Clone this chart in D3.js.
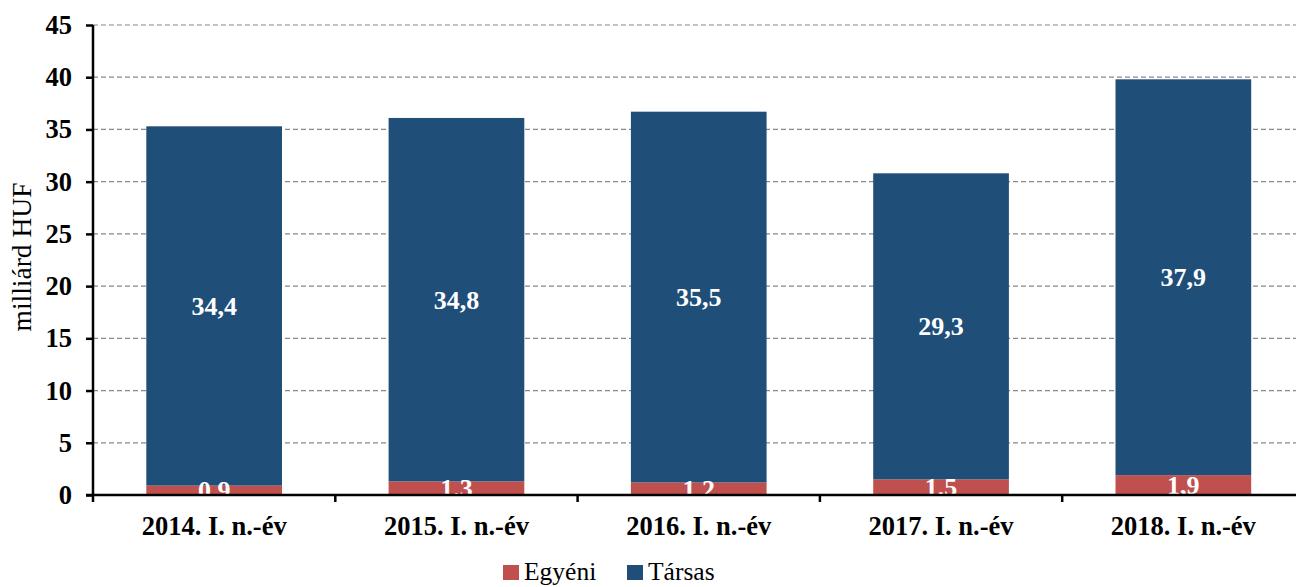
<!DOCTYPE html>
<html>
<head>
<meta charset="utf-8">
<script src="https://cdn.jsdelivr.net/npm/d3@7"></script>
<style>
body { margin: 0; background: #fff; }
svg { display: block; font-family: "Liberation Serif", "Times New Roman", serif; }
</style>
</head>
<body>
<svg id="chart" width="1296" height="587"></svg>
<script>
const categories = ["2014. I. n.-év", "2015. I. n.-év", "2016. I. n.-év", "2017. I. n.-év", "2018. I. n.-év"];
const egyeni = [0.9, 1.3, 1.2, 1.5, 1.9];
const tarsas = [34.4, 34.8, 35.5, 29.3, 37.9];
const yTicks = [0, 5, 10, 15, 20, 25, 30, 35, 40, 45];
const seriesNames = ["Egyéni", "Társas"];
const colors = ["#C0504D", "#1F4E79"];

const svg = d3.select("#chart");
const x0 = 93, x1 = 1304.5, yTop = 25, yBot = 495;
const x = d3.scaleBand().domain(categories).range([x0, x1]).paddingInner(0.44).paddingOuter(0.22);
const y = d3.scaleLinear().domain([0, 45]).range([yBot, yTop]);

// gridlines
svg.append("g").selectAll("line").data(yTicks.filter(d => d > 0)).join("line")
  .attr("x1", x0).attr("x2", 1296).attr("y1", d => y(d)).attr("y2", d => y(d))
  .attr("stroke", "#888").attr("stroke-width", 1.2).attr("stroke-dasharray", "5,3");

const rows = categories.map((c, i) => ({cat: c, Egyéni: egyeni[i], Társas: tarsas[i]}));
const stack = d3.stack().keys(seriesNames)(rows);

svg.append("defs").append("clipPath").attr("id", "plotclip")
  .append("rect").attr("x", x0).attr("y", yTop).attr("width", 1296 - x0).attr("height", yBot - yTop);

const gBars = svg.append("g");
stack.forEach((s, si) => {
  gBars.selectAll(null).data(s).join("rect")
    .attr("x", d => x(d.data.cat)).attr("width", x.bandwidth())
    .attr("y", d => y(d[1])).attr("height", d => y(d[0]) - y(d[1]))
    .attr("fill", colors[si]);
});

const gLab = svg.append("g").attr("clip-path", "url(#plotclip)");
stack.forEach((s, si) => {
  gLab.selectAll(null).data(s).join("text")
    .attr("x", d => x(d.data.cat) + x.bandwidth() / 2)
    .attr("y", d => y((d[0] + d[1]) / 2))
    .attr("dy", "0.35em")
    .attr("text-anchor", "middle")
    .attr("fill", "#fff").attr("font-weight", "bold").attr("font-size", 26)
    .text(d => d3.format(".1f")(d[1] - d[0]).replace(".", ","));
});

// y axis
const yAxis = d3.axisLeft(y).tickValues(yTicks).tickSize(7).tickPadding(14).tickFormat(d3.format("d"));
const gy = svg.append("g").attr("transform", `translate(${x0},0)`).call(yAxis);
gy.select(".domain").attr("d", `M0,${yTop}V${yBot + 7}`).attr("stroke", "#000").attr("stroke-width", 2.5);
gy.selectAll(".tick line").attr("stroke", "#000").attr("stroke-width", 2.5);
gy.selectAll(".tick text").attr("font-family", "Liberation Serif, serif").attr("font-size", 26.5).attr("font-weight", "bold").attr("fill", "#000");

// x axis
const gx = svg.append("g").attr("transform", `translate(0,${yBot})`);
gx.append("line").attr("x1", x0 - 7).attr("x2", 1296).attr("y1", 0).attr("y2", 0).attr("stroke", "#000").attr("stroke-width", 2.5);
const step = x.step();
const boundaries = categories.slice(1).map(c => x(c) - x.paddingInner() * step / 2);
gx.selectAll("line.b").data(boundaries).join("line").attr("class", "b")
  .attr("x1", d => d).attr("x2", d => d).attr("y1", 0).attr("y2", 7).attr("stroke", "#000").attr("stroke-width", 2.5);
gx.selectAll("text").data(categories).join("text")
  .attr("x", d => x(d) + x.bandwidth() / 2).attr("y", 40)
  .attr("text-anchor", "middle").attr("font-size", 26.5).attr("font-weight", "bold").attr("fill", "#000")
  .text(d => d);

// y title
svg.append("text").attr("transform", "translate(31,257) rotate(-90)")
  .attr("text-anchor", "middle").attr("font-size", 27.5).attr("fill", "#000").text("milliárd HUF");

// legend
const legX = [503, 627];
const lg = svg.append("g");
seriesNames.forEach((n, i) => {
  lg.append("rect").attr("x", legX[i]).attr("y", 565).attr("width", 16).attr("height", 15).attr("fill", colors[i]);
  lg.append("text").attr("x", legX[i] + 21).attr("y", 580).attr("font-size", 25.5).attr("fill", "#000").text(n);
});
</script>
</body>
</html>
